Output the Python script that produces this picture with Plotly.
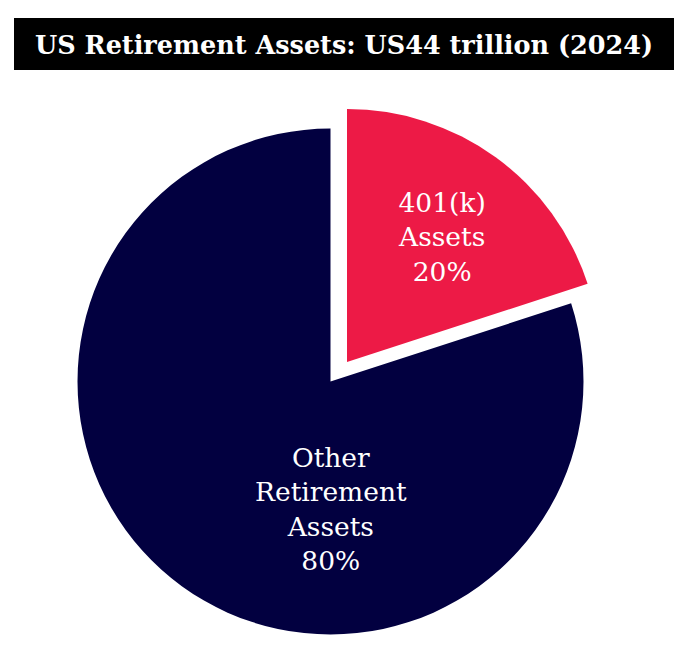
import plotly.graph_objects as go

# ---- data ----
title_text = "US Retirement Assets: US44 trillion (2024)"
labels = ["401(k)<br>Assets", "Other<br>Retirement<br>Assets"]
shares = [20, 80]
colors = ["#ED1A46", "#020040"]

W, H = 690, 648
OFF = 8    # page body margin offset
R = 253    # pie radius in px


def px_x(x):
    return (x - OFF) / W


def px_y(y):
    return 1 - (y - OFF) / H


def dom(cx, cy, r):
    """domain (paper fractions) for a pie of radius r centred at page pixel (cx, cy)"""
    return dict(x=[px_x(cx - r), px_x(cx + r)],
                y=[px_y(cy + r), px_y(cy - r)])


transparent = "rgba(0,0,0,0)"
fig = go.Figure()
# main (un-pulled) slice
fig.add_trace(go.Pie(
    labels=labels, values=shares, sort=False, direction="clockwise", rotation=0,
    marker=dict(colors=[transparent, colors[1]], line=dict(width=0)),
    textinfo="none", hoverinfo="skip", domain=dom(330.5, 381.5, R),
))
# exploded slice
fig.add_trace(go.Pie(
    labels=labels, values=shares, sort=False, direction="clockwise", rotation=0,
    marker=dict(colors=[colors[0], transparent], line=dict(width=0)),
    textinfo="none", hoverinfo="skip", domain=dom(347, 362, R),
))

label_pos = [(442, 237), (331, 509)]
for lab, val, (px, py) in zip(labels, shares, label_pos):
    fig.add_annotation(
        x=px_x(px), y=px_y(py), xref="paper", yref="paper",
        text=f"{lab}<br>{val}%", showarrow=False, align="center",
        font=dict(family="DejaVu Serif", size=26.5, color="white"),
        xanchor="center", yanchor="middle",
    )

fig.add_shape(type="rect", xref="paper", yref="paper",
              x0=px_x(14), x1=px_x(674), y0=px_y(70), y1=px_y(18),
              fillcolor="black", line=dict(width=0), layer="below")

fig.update_layout(
    width=W, height=H, margin=dict(l=0, r=0, t=0, b=0),
    paper_bgcolor="white", plot_bgcolor="white", showlegend=False,
    title=dict(text=f"<b>{title_text}</b>", x=px_x(344), xanchor="center",
               y=px_y(45), yanchor="middle", yref="container",
               font=dict(family="DejaVu Serif", size=25.5, color="white")),
)

fig.write_html("out.html")
